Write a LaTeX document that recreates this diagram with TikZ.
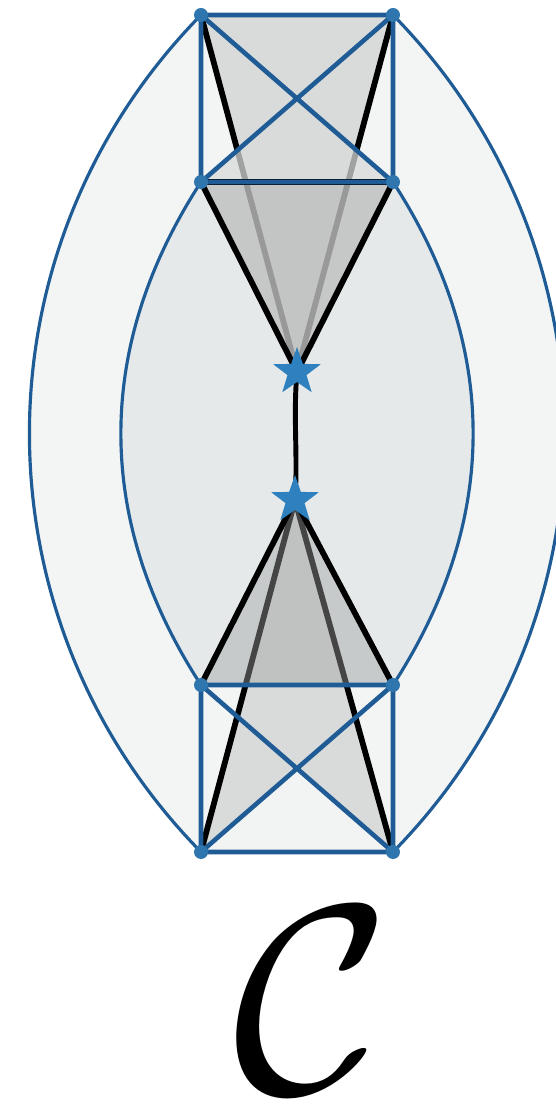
\documentclass[tikz,border=0pt]{standalone}
\usepackage{xcolor}
\definecolor{EdgeBlue}{HTML}{1F5C96}
\definecolor{DotBlue}{HTML}{2F76AE}
\definecolor{StarBlue}{HTML}{2E81BE}
\definecolor{OuterBg}{HTML}{F3F5F5}
\definecolor{InnerBg}{HTML}{E6E9EA}
\definecolor{FaceGray}{HTML}{D9DBDA}
\definecolor{TopShade}{HTML}{BEC0BF}
\definecolor{LowShade}{HTML}{A0A2A1}
\definecolor{FrontBg}{HTML}{F2F4F4}
\usetikzlibrary{calc,shapes.geometric}
\tikzset{
  lens/.style={draw=EdgeBlue,line width=1.8pt},
  edge/.style={draw=EdgeBlue,line width=2.6pt,line cap=round},
  wire/.style={draw=black,line width=3.3pt,line join=round,line cap=round},
  face/.style={fill=FaceGray},
  vtx/.style={fill=DotBlue},
  apex/.style={star,star points=5,star point ratio=2.5,fill=StarBlue,
    minimum size=1cm,inner sep=0pt},
}

\begin{document}
\begin{tikzpicture}
\useasboundingbox (0,0) rectangle (11.1,22.24);
% corners of the two squares, and the two apexes
\coordinate (tl) at (4.02,21.94);
\coordinate (tr) at (7.86,21.94);
\coordinate (bl) at (4.02,18.60);
\coordinate (br) at (7.86,18.60);
\coordinate (tl2) at (4.02,8.54);
\coordinate (tr2) at (7.86,8.54);
\coordinate (bl2) at (4.02,5.20);
\coordinate (br2) at (7.86,5.20);
\coordinate (a1) at (5.94,14.80);
\coordinate (a2) at (5.90,12.24);
\coordinate (ct) at ($(tl)!0.5!(br)$);
\coordinate (cb) at ($(tl2)!0.5!(br2)$);

% outer lens
\fill[OuterBg] (tl) -- (tr) to[bend left=44.5] (br2) -- (bl2) to[bend left=44.5] (tl) -- cycle;
\draw[lens] (tl) to[bend right=44.5] (bl2) (tr) to[bend left=44.5] (br2);
% inner lens
\fill[InnerBg] (bl) -- (br) to[bend left=33] (tr2) -- (tl2) to[bend left=33] (bl) -- cycle;
\draw[lens] (bl) to[bend right=33] (tl2) (br) to[bend left=33] (tr2);

% upper cone
\fill[face] (tl) -- (tr) -- (a1) -- cycle;
\draw[wire] (tl) -- (a1) -- (tr);
\fill[FaceGray,opacity=0.74] (bl) -- (ct) -- (br) -- cycle;
\fill[TopShade,opacity=0.8] (bl) -- (br) -- (a1) -- cycle;
\draw[wire] (bl) -- (a1) -- (br) -- cycle;

% lower cone
\fill[face] (bl2) -- (br2) -- (a2) -- cycle;
\fill[FrontBg] (bl2) -- (cb) -- (br2) -- cycle;
\draw[wire] (bl2) -- (a2) -- (br2);
\fill[LowShade,opacity=0.43] (tl2) -- (tr2) -- (a2) -- cycle;
\draw[wire] (tl2) -- (a2) -- (tr2);

% squares
\draw[edge] (tl) rectangle (br) (tl) -- (br) (tr) -- (bl);
\draw[edge] (tl2) rectangle (br2) (tl2) -- (br2) (tr2) -- (bl2);

\draw[wire,line width=2.8pt] (a1) .. controls +(-0.08,-0.9) and +(0.06,0.9) .. (a2);

\foreach \p in {tl,tr,bl,br,tl2,tr2,bl2,br2}
  \fill[vtx] (\p) circle (0.14);
\node[apex] (s1) at (a1) {};
\node[apex] (s2) at (a2) {};

\node[inner sep=0pt,scale=15.3] (name) at (6.24,2.22) {$\mathcal{C}$};
\end{tikzpicture}
\end{document}
